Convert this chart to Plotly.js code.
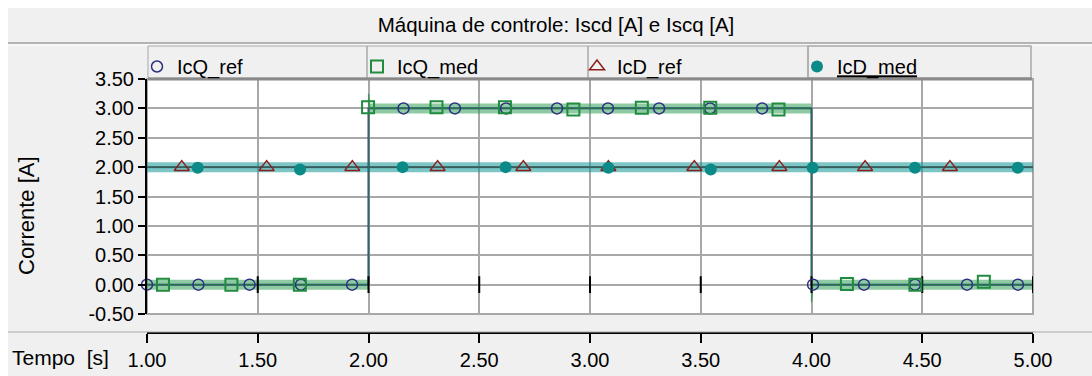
<!DOCTYPE html>
<html>
<head>
<meta charset="utf-8">
<script src="https://cdn.plot.ly/plotly-3.0.1.min.js"></script>
<style>html,body{margin:0;padding:0;background:#fff;}#chart{width:1092px;height:376px;}</style>
</head>
<body>
<div id="chart"></div>
<script>
// ---- data ----
const xTicks = [1.0, 1.5, 2.0, 2.5, 3.0, 3.5, 4.0, 4.5, 5.0];
const yTicks = [-0.5, 0.0, 0.5, 1.0, 1.5, 2.0, 2.5, 3.0, 3.5];

// IcQ_ref (step reference)
const tIcQref = [1.0, 2.0, 2.0, 4.0, 4.0, 5.0];
const vIcQref = [0, 0, 3, 3, 0, 0];
// IcQ_med (measured, with overshoot / undershoot at the steps)
const tIcQmed = [1.0, 1.999, 2.0, 2.006, 3.999, 4.0, 4.006, 5.0];
const vIcQmed = [0, 0, 3.25, 3.0, 3.0, -0.30, 0, 0];
// IcD_ref and IcD_med (constant 2 A)
const tIcDref = [1.0, 5.0];
const vIcDref = [2, 2];
const tIcDmed = [1.0, 5.0];
const vIcDmed = [2, 2];

// marker samples
const tMkQref = [1.000,1.232,1.463,1.695,1.926,2.158,2.390,2.621,2.851,3.081,3.312,3.542,3.777,4.007,4.237,4.467,4.702,4.932];
const vMkQref = [0,0,0,0,0,3,3,3,3,3,3,3,3,0,0,0,0,0];
const tMkQmed = [1.072,1.381,1.690,1.998,2.307,2.616,2.925,3.234,3.543,3.851,4.160,4.469,4.778];
const vMkQmed = [0.00,0.00,0.00,3.02,3.02,3.02,2.98,3.01,3.01,2.98,0.01,0.00,0.05];
const tMkDref = [1.157,1.540,1.927,2.312,2.699,3.083,3.471,3.855,4.242,4.625];
const vMkDref = [2,2,2,2,2,2,2,2,2,2];
const tMkDmed = [1.229,1.691,2.154,2.619,3.083,3.545,4.005,4.467,4.931];
const vMkDmed = [1.99,1.96,2.00,2.00,1.99,1.96,1.99,1.99,1.99];

const seriesNames = ['IcQ_ref', 'IcQ_med', 'IcD_ref', '<u>IcD_med</u>'];

// ---- styling ----
const FONT = 'Arial, "Liberation Sans", sans-serif';
const cQref = '#2d2f80', cQmed = '#1f8c3f', cDref = '#8c1d1d', cDmed = '#0b8a88';

// horizontal parts of a measured series -> noise band
function flatSegments(t, v) {
  const x = [], y = [];
  for (let i = 0; i < t.length - 1; i++) {
    if (Math.abs(v[i + 1] - v[i]) < 0.1) { x.push(t[i], t[i + 1], null); y.push(v[i], v[i + 1], null); }
  }
  return {x, y};
}
const bandQ = flatSegments(tIcQmed, vIcQmed);
const bandD = flatSegments(tIcDmed, vIcDmed);

const traces = [
  {x: bandD.x, y: bandD.y, mode: 'lines', line: {color: 'rgba(20,150,150,0.55)', width: 10}, showlegend: false, hoverinfo: 'skip'},
  {x: tIcDref, y: vIcDref, mode: 'lines', line: {color: cDref, width: 1.5}, showlegend: false},
  {x: tIcDmed, y: vIcDmed, mode: 'lines', line: {color: 'rgba(0,135,135,0.6)', width: 2}, showlegend: false},
  {x: bandQ.x, y: bandQ.y, mode: 'lines', line: {color: 'rgba(50,160,85,0.55)', width: 10}, showlegend: false, hoverinfo: 'skip'},
  {x: tIcQref, y: vIcQref, mode: 'lines', line: {color: cQref, width: 1.8}, showlegend: false},
  {x: tIcQmed, y: vIcQmed, mode: 'lines', line: {color: 'rgba(31,140,63,0.75)', width: 1.2}, showlegend: false},
  // zero-level tick marks
  {x: xTicks.slice(1), y: xTicks.slice(1).map(() => 0), mode: 'markers', showlegend: false, hoverinfo: 'skip',
   marker: {symbol: 'line-ns', size: 12, line: {color: '#000', width: 2}}},
  // markers + legend
  {x: tMkQref, y: vMkQref, name: seriesNames[0], mode: 'markers', cliponaxis: false,
   marker: {symbol: 'circle-open', size: 11, color: cQref, line: {color: cQref, width: 1.5}}},
  {x: tMkQmed, y: vMkQmed, name: seriesNames[1], mode: 'markers', cliponaxis: false,
   marker: {symbol: 'square-open', size: 12, color: cQmed, line: {color: cQmed, width: 2}}},
  {x: tMkDref, y: vMkDref, name: seriesNames[2], mode: 'markers', cliponaxis: false,
   marker: {symbol: 'triangle-up-open', size: 13, color: cDref, line: {color: cDref, width: 1.5}}},
  {x: tMkDmed, y: vMkDmed, name: seriesNames[3], mode: 'markers', cliponaxis: false,
   marker: {symbol: 'circle', size: 12, color: cDmed}}
];

// pixel helpers for decorations (paper coords)
const L = 147, R = 59, T = 79, B = 43, W = 1092, H = 376;
const PW = W - L - R, PH = H - T - B;
const px = p => (p - L) / PW;
const py = p => (H - B - p) / PH;
const plotBottom = 314;

const shapes = [
  {type: 'rect', xref: 'paper', yref: 'paper', x0: px(0), x1: px(W), y0: py(0), y1: py(8), fillcolor: '#fff', line: {width: 0}, layer: 'below'},
  {type: 'rect', xref: 'paper', yref: 'paper', x0: px(0), x1: px(8), y0: py(0), y1: py(H), fillcolor: '#fff', line: {width: 0}, layer: 'below'},
  {type: 'line', xref: 'paper', yref: 'paper', x0: px(8), x1: px(W), y0: py(43), y1: py(43), line: {color: '#a0a0a0', width: 1.5}},
  {type: 'line', xref: 'paper', yref: 'paper', x0: px(8), x1: px(W), y0: py(45), y1: py(45), line: {color: '#ffffff', width: 1}},
  {type: 'rect', xref: 'paper', yref: 'paper', x0: px(148), x1: px(367), y0: py(46), y1: py(78), line: {color: '#a8a8a8', width: 1}},
  {type: 'rect', xref: 'paper', yref: 'paper', x0: px(367), x1: px(588), y0: py(46), y1: py(78), line: {color: '#a8a8a8', width: 1}},
  {type: 'rect', xref: 'paper', yref: 'paper', x0: px(588), x1: px(808), y0: py(46), y1: py(78), line: {color: '#a8a8a8', width: 1}},
  {type: 'rect', xref: 'paper', yref: 'paper', x0: px(808), x1: px(1031), y0: py(46), y1: py(78), line: {color: '#a8a8a8', width: 1.5}},
  {type: 'line', xref: 'paper', yref: 'paper', x0: px(148), x1: px(1032), y0: py(79), y1: py(79), line: {color: '#8a8a8a', width: 3}},
  {type: 'line', xref: 'paper', yref: 'paper', x0: px(8), x1: px(W), y0: py(332), y1: py(332), line: {color: '#a8a8a8', width: 1}},
  {type: 'rect', xref: 'x domain', yref: 'y domain', x0: 0, x1: 1, y0: 0, y1: 1, line: {color: '#a8a8a8', width: 2}, layer: 'below'}
];

const layout = {
  width: W, height: H,
  margin: {l: L, r: R, t: T, b: B, pad: 0, autoexpand: false},
  paper_bgcolor: '#f0f0f0',
  plot_bgcolor: '#ffffff',
  font: {family: FONT, size: 20, color: '#000'},
  title: {text: 'Máquina de controle: Iscd [A] e Iscq [A]', font: {family: FONT, size: 20.5, color: '#000'},
          x: 556 / W, xref: 'container', xanchor: 'center', y: 1 - 25 / H, yref: 'container', yanchor: 'middle'},
  showlegend: true,
  legend: {orientation: 'h', x: 137 / W, xref: 'container', xanchor: 'left', y: 1 - 47 / H, yref: 'container', yanchor: 'top',
           entrywidth: 175, entrywidthmode: 'pixels', bgcolor: 'rgba(0,0,0,0)', borderwidth: 0,
           font: {family: FONT, size: 20, color: '#000'}, traceorder: 'normal'},
  xaxis: {range: [1, 5], tickvals: xTicks, ticktext: xTicks.map(v => v.toFixed(2)),
          anchor: 'free', position: 0,
          showline: true, linecolor: '#000', linewidth: 2,
          ticks: 'outside', ticklen: 9, tickwidth: 2, tickcolor: '#000',
          showgrid: true, gridcolor: '#a8a8a8', gridwidth: 2, zeroline: false,
          tickfont: {family: FONT, size: 20, color: '#000'}, fixedrange: true},
  yaxis: {range: [-0.5, 3.5], tickvals: yTicks, ticktext: yTicks.map(v => v.toFixed(2)),
          domain: [py(plotBottom), 1],
          showline: true, linecolor: '#000', linewidth: 2,
          ticks: 'outside', ticklen: 7, tickwidth: 2, tickcolor: '#000',
          showgrid: true, gridcolor: '#a8a8a8', gridwidth: 2, zeroline: false,
          tickfont: {family: FONT, size: 20, color: '#000'}, fixedrange: true},
  shapes: shapes,
  annotations: [
    {text: 'Corrente [A]', xref: 'paper', yref: 'paper', x: px(27), y: py(215), xanchor: 'center', yanchor: 'middle',
     textangle: -90, showarrow: false, font: {family: FONT, size: 22, color: '#000'}},
    {text: 'Tempo\u00a0 [s]', xref: 'paper', yref: 'paper', x: px(10), y: py(357), xanchor: 'left', yanchor: 'middle',
     showarrow: false, font: {family: FONT, size: 21, color: '#000'}}
  ]
};

Plotly.newPlot('chart', traces, layout, {displayModeBar: false, staticPlot: true});
</script>
</body>
</html>
